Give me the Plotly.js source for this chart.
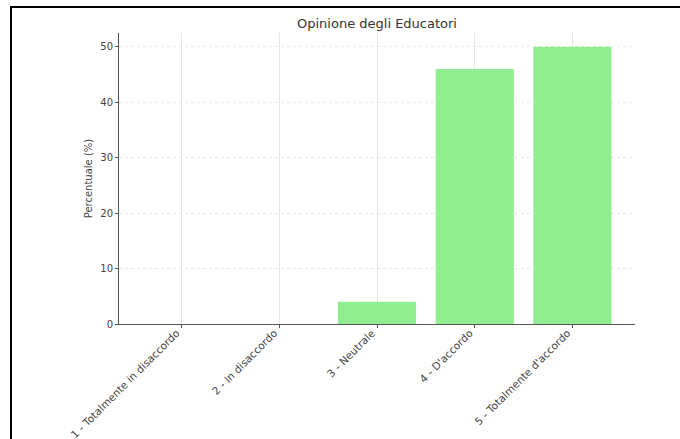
<!DOCTYPE html>
<html>
<head>
<meta charset="utf-8">
<script src="https://cdn.plot.ly/plotly-3.0.1.min.js"></script>
<style>
  html, body { margin: 0; padding: 0; background: #fff; }
  #wrap { position: relative; width: 680px; height: 439px; overflow: hidden; }
  #chart { position: absolute; left: 0; top: 0; width: 680px; height: 439px; }
  #frame { position: absolute; left: 10px; top: 6px; width: 700px; height: 460px;
           border-left: 2px solid #000; border-top: 2px solid #000; pointer-events: none; }
</style>
</head>
<body>
<div id="wrap">
  <div id="chart"></div>
  <div id="frame"></div>
</div>
<script>
const categories = [
  "1 - Totalmente in disaccordo",
  "2 - In disaccordo",
  "3 - Neutrale",
  "4 - D'accordo",
  "5 - Totalmente d'accordo"
];
const percentages = [0, 0, 4, 46, 50];
const yTicks = [0, 10, 20, 30, 40, 50];
const chartTitle = "Opinione degli Educatori";
const yLabel = "Percentuale (%)";

const trace = {
  type: "bar",
  x: categories,
  y: percentages,
  width: 0.8,
  marker: { color: "#90EE90", line: { width: 0 } },
  hoverinfo: "x+y"
};

const font = { family: "DejaVu Sans, sans-serif", size: 10, color: "#444" };

const layout = {
  width: 680,
  height: 439,
  margin: { l: 119, r: 45, t: 33, b: 115, pad: 0 },
  paper_bgcolor: "#fff",
  plot_bgcolor: "#fff",
  font: font,
  showlegend: false,
  title: {
    text: chartTitle,
    font: { family: "DejaVu Sans, sans-serif", size: 13, color: "#333" },
    x: 0.5, xref: "paper", xanchor: "center",
    y: 1, yref: "paper", yanchor: "bottom", pad: { b: 5 }
  },
  xaxis: {
    type: "category",
    range: [-0.64, 4.64],
    tickangle: -45,
    ticks: "outside", ticklen: 3, tickcolor: "#555", tickwidth: 1,
    ticklabelstandoff: -5,
    ticklabelshift: -5,
    showline: true, linecolor: "#555", linewidth: 1,
    showgrid: true, gridcolor: "#e6e6e6", gridwidth: 1,
    zeroline: false,
    layer: "above traces",
    tickfont: { family: "DejaVu Sans, sans-serif", size: 10.5, color: "#444" }
  },
  yaxis: {
    range: [0, 52.5],
    tickvals: yTicks,
    ticktext: yTicks.map(String),
    ticks: "outside", ticklen: 3, tickcolor: "#555", tickwidth: 1,
    showline: true, linecolor: "#555", linewidth: 1,
    showgrid: true, gridcolor: "#e6e6e6", gridwidth: 1, griddash: "dot",
    zeroline: false,
    layer: "above traces",
    tickfont: { family: "DejaVu Sans, sans-serif", size: 10, color: "#444" },
    title: { text: yLabel, font: { family: "DejaVu Sans, sans-serif", size: 10, color: "#444" }, standoff: 5 }
  },
  bargap: 0.2
};

Plotly.newPlot("chart", [trace], layout, { displayModeBar: false, staticPlot: true });
</script>
</body>
</html>
